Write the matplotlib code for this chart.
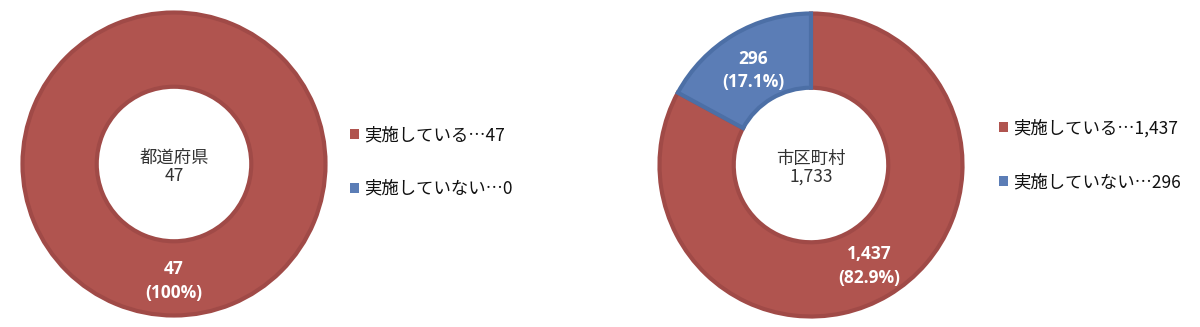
import matplotlib
matplotlib.use('Agg')
import matplotlib.pyplot as plt
from matplotlib.patches import Patch
import numpy as np

plt.rcParams['font.family'] = ['Noto Sans CJK JP', 'DejaVu Sans']

# data
categories = ['実施している', '実施していない']
pref_values = [47, 0]
muni_values = [1437, 296]
pref_title = '都道府県'
muni_title = '市区町村'

fill_colors = ['#B0544F', '#5B7DB6']
edge_colors = ['#A04A47', '#4C6FA6']

W, H = 1200, 327
fig = plt.figure(figsize=(W / 100, H / 100), dpi=100)


def donut(cx, cy, values, title):
    half = 155
    ax = fig.add_axes([(cx - half) / W, (H - cy - half) / H, 2 * half / W, 2 * half / H])
    total = sum(values)
    r = 151.5 / half
    wedges, _ = ax.pie(values, colors=fill_colors, startangle=90, counterclock=False,
                       radius=r, wedgeprops=dict(width=0.49 * r, linewidth=3))
    for w, ec, v in zip(wedges, edge_colors, values):
        w.set_edgecolor(ec)
        if v == 0:
            w.set_visible(False)
    # value labels in the middle of each ring segment
    for w, v in zip(wedges, values):
        if v == 0:
            continue
        mid = np.deg2rad((w.theta1 + w.theta2) / 2)
        d = 0.75 * r
        pct = v / total * 100
        pct_txt = '100%' if pct == 100 else f'{pct:.1f}%'
        ax.text(d * np.cos(mid), d * np.sin(mid) - 0.02, f'{v:,}\n({pct_txt})',
                ha='center', va='center', color='white', fontsize=12.5,
                fontweight='bold', family=['Open Sans', 'DejaVu Sans'], linespacing=1.4)
    ax.text(0, -0.02, f'{title}\n{total:,}', ha='center', va='center',
            color='#333333', fontsize=12.5, linespacing=1.0)
    ax.set_xlim(-1, 1)
    ax.set_ylim(-1, 1)
    ax.set_aspect('equal')
    ax.axis('off')
    return ax


donut(174, 164, pref_values, pref_title)
donut(811, 165, muni_values, muni_title)


def legend(x, y, values):
    handles = [Patch(facecolor=c, edgecolor='none') for c in fill_colors]
    labels = [f'{c}…{v:,}' for c, v in zip(categories, values)]
    fig.legend(handles, labels, loc='center left', bbox_to_anchor=(x / W, (H - y) / H),
               frameon=False, fontsize=12.5, handlelength=0.5, handleheight=0.5,
               handletextpad=0.3, labelspacing=2.05, borderpad=0, borderaxespad=0,
               labelcolor='#111111')


legend(350, 162, pref_values)
legend(999, 155, muni_values)

fig.savefig('out.png', dpi=100)
